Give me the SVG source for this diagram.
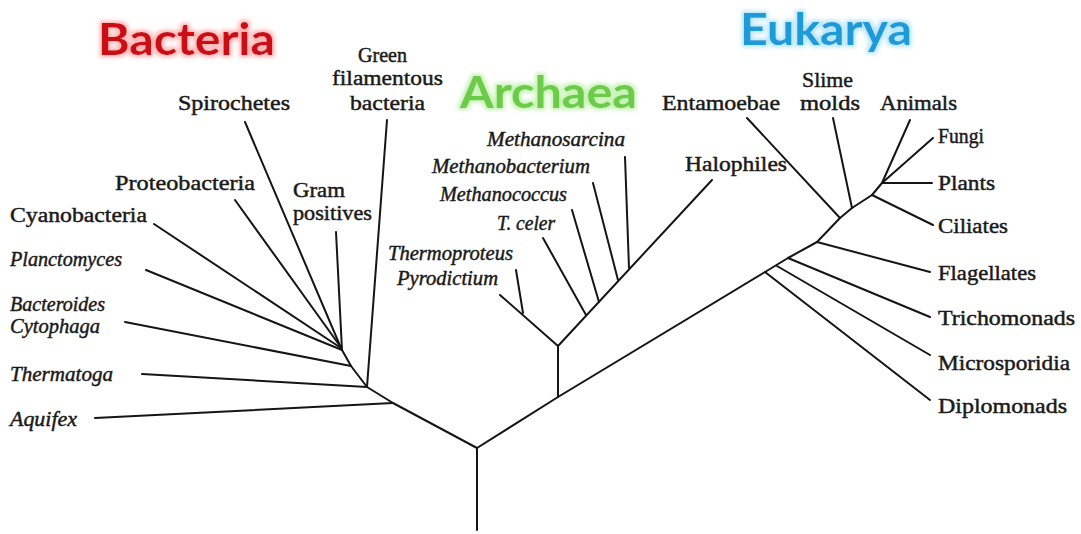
<svg xmlns="http://www.w3.org/2000/svg" width="1081" height="534" viewBox="0 0 1081 534">
<defs>
<style>
.e{stroke:#151515;stroke-width:2;fill:none;stroke-linecap:round;stroke-linejoin:round}
.t{font-family:"Liberation Serif","Times New Roman",serif;font-size:20.5px;fill:#1a1a1a;stroke:#1a1a1a;stroke-width:0.45}
.i{font-style:italic}
.d{font-family:Lato,"Liberation Sans",Arial,sans-serif;font-weight:700;font-size:43px}
</style>
<filter id="gR" x="-20%" y="-40%" width="140%" height="180%">
<feMorphology in="SourceAlpha" operator="dilate" radius="2" result="d"/>
<feGaussianBlur in="d" stdDeviation="2" result="b"/>
<feFlood flood-color="#ffb0b0"/>
<feComposite in2="b" operator="in" result="g"/>
<feMerge><feMergeNode in="g"/><feMergeNode in="SourceGraphic"/></feMerge>
</filter>
<filter id="gG" x="-20%" y="-40%" width="140%" height="180%">
<feMorphology in="SourceAlpha" operator="dilate" radius="2" result="d"/>
<feGaussianBlur in="d" stdDeviation="2" result="b"/>
<feFlood flood-color="#c4f2b0"/>
<feComposite in2="b" operator="in" result="g"/>
<feMerge><feMergeNode in="g"/><feMergeNode in="SourceGraphic"/></feMerge>
</filter>
<filter id="gB" x="-20%" y="-40%" width="140%" height="180%">
<feMorphology in="SourceAlpha" operator="dilate" radius="2" result="d"/>
<feGaussianBlur in="d" stdDeviation="2" result="b"/>
<feFlood flood-color="#b3e4fb"/>
<feComposite in2="b" operator="in" result="g"/>
<feMerge><feMergeNode in="g"/><feMergeNode in="SourceGraphic"/></feMerge>
</filter>
</defs>
<rect width="1081" height="534" fill="#ffffff"/>

<g id="connectors">
<!-- root -->
<line class="e" x1="477" y1="530" x2="477" y2="448"/>
<!-- bacteria trunk -->
<polyline class="e" points="477,448 393,403 367,387 351,366 342,350"/>
<!-- archaea/eukarya trunk -->
<polyline class="e" points="477,448 558,397 765,272 788,258 817,242 840,218 852,208 872,195 882,183"/>
<line class="e" x1="558" y1="397" x2="558" y2="346"/>
<line class="e" x1="558" y1="346" x2="712" y2="180"/>
<!-- bacteria leaves -->
<line class="e" x1="393" y1="403" x2="95" y2="418"/>
<line class="e" x1="367" y1="387" x2="142" y2="374"/>
<line class="e" x1="367" y1="387" x2="387" y2="120"/>
<line class="e" x1="351" y1="366" x2="125" y2="322"/>
<line class="e" x1="342" y1="350" x2="336" y2="232"/>
<line class="e" x1="342" y1="350" x2="146" y2="270"/>
<line class="e" x1="341" y1="348" x2="154" y2="224"/>
<line class="e" x1="340" y1="346" x2="235" y2="200"/>
<line class="e" x1="341" y1="348" x2="245" y2="122"/>
<!-- archaea leaves -->
<line class="e" x1="558" y1="346" x2="500" y2="295"/>
<line class="e" x1="523" y1="313" x2="516" y2="270"/>
<line class="e" x1="586" y1="315" x2="543" y2="238"/>
<line class="e" x1="599" y1="302" x2="572" y2="210"/>
<line class="e" x1="618" y1="280" x2="593" y2="183"/>
<line class="e" x1="629" y1="268" x2="625" y2="157"/>
<!-- eukarya leaves -->
<line class="e" x1="765" y1="272" x2="930" y2="400"/>
<line class="e" x1="777" y1="266" x2="930" y2="355"/>
<line class="e" x1="788" y1="258" x2="930" y2="317"/>
<line class="e" x1="817" y1="242" x2="930" y2="272"/>
<line class="e" x1="840" y1="218" x2="747" y2="118"/>
<line class="e" x1="852" y1="208" x2="833" y2="118"/>
<line class="e" x1="872" y1="195" x2="933" y2="225"/>
<line class="e" x1="882" y1="183" x2="932" y2="183"/>
<line class="e" x1="882" y1="183" x2="933" y2="138"/>
<line class="e" x1="882" y1="183" x2="910" y2="120"/>
</g>

<g id="domain-bacteria"><text class="d" x="98" y="55" fill="#cc0a18" filter="url(#gR)" textLength="177" lengthAdjust="spacingAndGlyphs">Bacteria</text></g>
<g id="domain-archaea"><text class="d" x="460" y="108" fill="#6ccc48" filter="url(#gG)" textLength="177" lengthAdjust="spacingAndGlyphs">Archaea</text></g>
<g id="domain-eukarya"><text class="d" x="740" y="45" fill="#1c9bd8" filter="url(#gB)" textLength="172" lengthAdjust="spacingAndGlyphs">Eukarya</text></g>

<g id="n-green"><text class="t" x="358" y="62" textLength="49" lengthAdjust="spacingAndGlyphs">Green</text><text class="t" x="332" y="85" textLength="111" lengthAdjust="spacingAndGlyphs">filamentous</text><text class="t" x="350" y="110" textLength="75" lengthAdjust="spacingAndGlyphs">bacteria</text></g>
<g id="n-spirochetes"><text class="t" x="178" y="110" textLength="112" lengthAdjust="spacingAndGlyphs">Spirochetes</text></g>
<g id="n-proteobacteria"><text class="t" x="115" y="190" textLength="140" lengthAdjust="spacingAndGlyphs">Proteobacteria</text></g>
<g id="n-gram"><text class="t" x="293" y="197" textLength="52" lengthAdjust="spacingAndGlyphs">Gram</text><text class="t" x="293" y="220" textLength="79" lengthAdjust="spacingAndGlyphs">positives</text></g>
<g id="n-cyanobacteria"><text class="t" x="10" y="222" textLength="137" lengthAdjust="spacingAndGlyphs">Cyanobacteria</text></g>
<g id="n-planctomyces"><text class="t i" x="10" y="266" textLength="112" lengthAdjust="spacingAndGlyphs">Planctomyces</text></g>
<g id="n-bacteroides"><text class="t i" x="10" y="311" textLength="95" lengthAdjust="spacingAndGlyphs">Bacteroides</text><text class="t i" x="10" y="333" textLength="90" lengthAdjust="spacingAndGlyphs">Cytophaga</text></g>
<g id="n-thermatoga"><text class="t i" x="10" y="381" textLength="103" lengthAdjust="spacingAndGlyphs">Thermatoga</text></g>
<g id="n-aquifex"><text class="t i" x="10" y="426" textLength="67" lengthAdjust="spacingAndGlyphs">Aquifex</text></g>

<g id="n-methanosarcina"><text class="t i" x="487" y="146" textLength="138" lengthAdjust="spacingAndGlyphs">Methanosarcina</text></g>
<g id="n-methanobacterium"><text class="t i" x="432" y="173" textLength="158" lengthAdjust="spacingAndGlyphs">Methanobacterium</text></g>
<g id="n-methanococcus"><text class="t i" x="440" y="201" textLength="127" lengthAdjust="spacingAndGlyphs">Methanococcus</text></g>
<g id="n-tceler"><text class="t i" x="497" y="230" textLength="58" lengthAdjust="spacingAndGlyphs">T. celer</text></g>
<g id="n-thermoproteus"><text class="t i" x="388" y="260" textLength="125" lengthAdjust="spacingAndGlyphs">Thermoproteus</text></g>
<g id="n-pyrodictium"><text class="t i" x="397" y="285" textLength="101" lengthAdjust="spacingAndGlyphs">Pyrodictium</text></g>
<g id="n-halophiles"><text class="t" x="685" y="171" textLength="102" lengthAdjust="spacingAndGlyphs">Halophiles</text></g>

<g id="n-entamoebae"><text class="t" x="662" y="110" textLength="118" lengthAdjust="spacingAndGlyphs">Entamoebae</text></g>
<g id="n-slime"><text class="t" x="802" y="87" textLength="51" lengthAdjust="spacingAndGlyphs">Slime</text><text class="t" x="800" y="110" textLength="60" lengthAdjust="spacingAndGlyphs">molds</text></g>
<g id="n-animals"><text class="t" x="880" y="110" textLength="77" lengthAdjust="spacingAndGlyphs">Animals</text></g>
<g id="n-fungi"><text class="t" x="938" y="143" textLength="46" lengthAdjust="spacingAndGlyphs">Fungi</text></g>
<g id="n-plants"><text class="t" x="938" y="190" textLength="57" lengthAdjust="spacingAndGlyphs">Plants</text></g>
<g id="n-ciliates"><text class="t" x="938" y="233" textLength="70" lengthAdjust="spacingAndGlyphs">Ciliates</text></g>
<g id="n-flagellates"><text class="t" x="938" y="280" textLength="98" lengthAdjust="spacingAndGlyphs">Flagellates</text></g>
<g id="n-trichomonads"><text class="t" x="938" y="325" textLength="137" lengthAdjust="spacingAndGlyphs">Trichomonads</text></g>
<g id="n-microsporidia"><text class="t" x="938" y="370" textLength="132" lengthAdjust="spacingAndGlyphs">Microsporidia</text></g>
<g id="n-diplomonads"><text class="t" x="938" y="413" textLength="129" lengthAdjust="spacingAndGlyphs">Diplomonads</text></g>
</svg>
